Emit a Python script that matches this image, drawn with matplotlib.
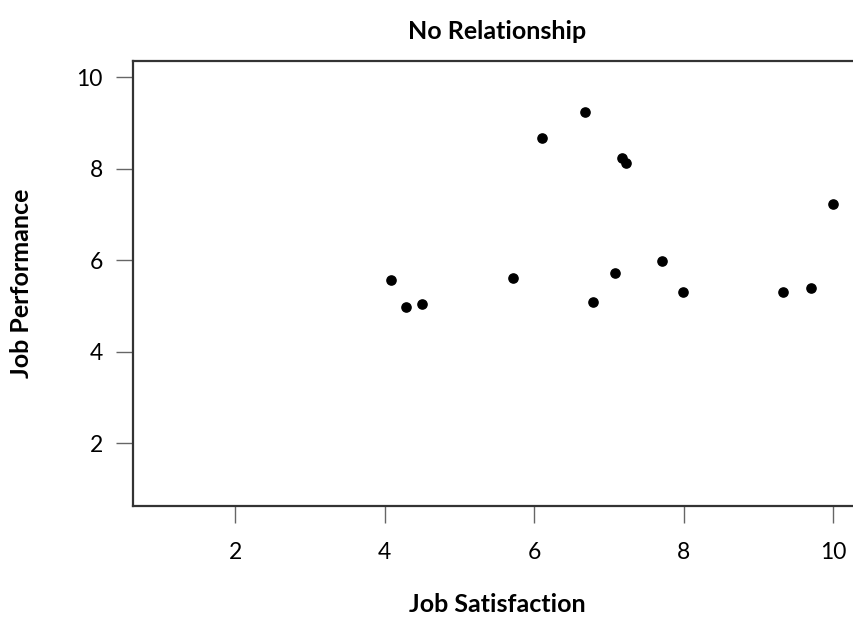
import matplotlib
matplotlib.use("Agg")
import matplotlib.pyplot as plt

# Job satisfaction vs job performance
satisfaction = [4.09, 4.29, 4.50, 5.72, 6.11, 6.68, 7.18, 7.23, 6.79, 7.08,
                7.71, 7.99, 9.33, 9.70, 10.0]
performance = [5.57, 4.99, 5.04, 5.61, 8.67, 9.24, 8.24, 8.14, 5.09, 5.73,
               5.98, 5.32, 5.32, 5.39, 7.23]
ticks = [2, 4, 6, 8, 10]

plt.rcParams['font.family'] = ['Lato', 'DejaVu Sans']

fig = plt.figure(figsize=(8.54, 6.22), dpi=100)
W, H = 854, 622
# axes runs slightly past the right edge, like the cropped original
ax = fig.add_axes([133.3 / W, 116.3 / H, 727 / W, 444.7 / H])

ax.scatter(satisfaction, performance, s=44, color='black', zorder=3)

ax.set_xlim(0.64, 10.36)
ax.set_ylim(0.64, 10.36)
ax.set_xticks(ticks)
ax.set_yticks(ticks)
ax.set_xticklabels([str(t) for t in ticks])
ax.set_yticklabels([str(t) for t in ticks])

for side in ['left', 'bottom', 'top']:
    ax.spines[side].set_linewidth(1.6)
    ax.spines[side].set_color('#333333')
ax.spines['right'].set_visible(False)
ax.tick_params(length=12, width=1.0, color='#666666', labelsize=16.5)
ax.tick_params(axis='x', pad=14)
ax.tick_params(axis='y', pad=10)

cx = (497 - 133.3) / 727
ax.set_title('No Relationship', fontsize=18, fontweight='bold', pad=16)
ax.title.set_position((cx, 1.0))
ax.set_xlabel('Job Satisfaction', fontsize=18, fontweight='bold')
ax.set_ylabel('Job Performance', fontsize=18, fontweight='bold')
ax.xaxis.set_label_coords(cx, -(593 - 505.7) / 444.7)
ax.yaxis.set_label_coords(-(133.3 - 33) / 727, 0.5)

fig.savefig('out.png', dpi=100)
